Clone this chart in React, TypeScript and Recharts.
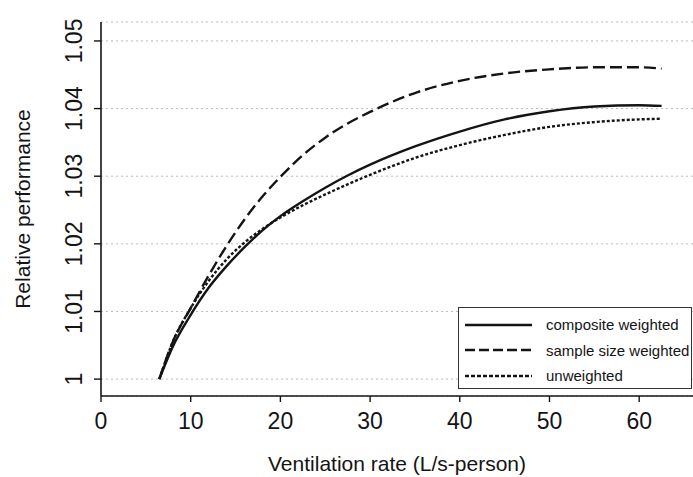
import React from "react";
import { LineChart, Line, XAxis, YAxis, CartesianGrid } from "recharts";

const rates = [6.5, 8, 10, 12, 14, 16, 18, 20, 22.5, 25, 27.5, 30, 35, 40, 45, 50, 55, 60, 62.5];
const composite = [1.0, 1.0048, 1.0095, 1.0135, 1.0167, 1.0195, 1.022, 1.0241, 1.0263, 1.0283, 1.0301, 1.0317, 1.0344, 1.0366, 1.0384, 1.0396, 1.0403, 1.0405, 1.0404];
const sampleSize = [1.0, 1.0055, 1.0105, 1.0153, 1.0197, 1.0236, 1.027, 1.0299, 1.0331, 1.0357, 1.0378, 1.0395, 1.0423, 1.0441, 1.0452, 1.0458, 1.0461, 1.0461, 1.0459];
const unweighted = [1.0, 1.0055, 1.0105, 1.0145, 1.0177, 1.0202, 1.0222, 1.0239, 1.0257, 1.0273, 1.0288, 1.0302, 1.0327, 1.0346, 1.0361, 1.0373, 1.038, 1.0384, 1.0385];
const xTicks = [0, 10, 20, 30, 40, 50, 60];
const yTicks = [1, 1.01, 1.02, 1.03, 1.04, 1.05];

const series = [
  { key: "composite", name: "composite weighted", dash: undefined as string | undefined, legendDash: undefined as string | undefined },
  { key: "sample", name: "sample size weighted", dash: "12 5", legendDash: "10 4" },
  { key: "unweighted", name: "unweighted", dash: "3 2", legendDash: "4 2" },
];

const data = rates.map((r, i) => ({
  rate: r,
  composite: composite[i],
  sample: sampleSize[i],
  unweighted: unweighted[i],
}));

const FONT = "'Liberation Sans', Arial, Helvetica, sans-serif";
const INK = "#141414";

const YTick = (props: any) => {
  const { x, y, payload } = props;
  const v = payload.value;
  const label = v === 1 ? "1" : v.toFixed(2);
  const tx = x - 10;
  return (
    <text x={tx} y={y} transform={`rotate(-90, ${tx}, ${y})`} textAnchor="middle" fontSize={23} fill={INK} fontFamily={FONT}>
      {label}
    </text>
  );
};

const YLabel = (props: any) => {
  const vb = props.viewBox;
  const cx = vb.x + 22;
  const cy = vb.y + vb.height / 2;
  return (
    <text x={cx} y={cy} transform={`rotate(-90, ${cx}, ${cy})`} textAnchor="middle" dominantBaseline="central" fontSize={21} fill={INK} fontFamily={FONT}>
      Relative performance
    </text>
  );
};

// legend box drawn over the plot, bottom right
const LegendBox = () => (
  <div
    style={{
      position: "absolute", left: 458, top: 307, width: 234, height: 82,
      border: "1.4px solid #333", background: "#fff", boxSizing: "border-box",
      paddingTop: 4, fontFamily: FONT,
    }}
  >
    {series.map((s) => (
      <div key={s.key} style={{ display: "flex", alignItems: "center", height: 25.5, whiteSpace: "nowrap" }}>
        <svg width={80} height={10} style={{ display: "block", flex: "none" }}>
          <line x1={6} x2={73} y1={5} y2={5} stroke={INK} strokeWidth={2.4} strokeDasharray={s.legendDash} />
        </svg>
        <span style={{ fontSize: 15, color: INK, marginLeft: 7 }}>{s.name}</span>
      </div>
    ))}
  </div>
);

export default function App() {
  return (
    <div style={{ position: "absolute", left: 0, top: 0, width: 693, height: 477, background: "#fff", overflow: "hidden" }}>
      <LineChart width={693} height={477} data={data} margin={{ top: 22, right: 0, bottom: 0, left: 0 }}>
        <CartesianGrid vertical={false} stroke="#bcbcbc" strokeDasharray="2 3" />
        <XAxis
          dataKey="rate"
          type="number"
          domain={[0, 66]}
          ticks={xTicks}
          height={81}
          tickSize={6}
          tickMargin={11}
          axisLine={{ stroke: INK, strokeWidth: 1.6 }}
          tickLine={{ stroke: INK, strokeWidth: 1.4 }}
          tick={{ fontSize: 23, fill: INK, fontFamily: FONT }}
          label={{ value: "Ventilation rate (L/s-person)", position: "insideBottom", offset: 6, fontSize: 21, fill: INK, fontFamily: FONT }}
        />
        <XAxis
          xAxisId="top"
          orientation="top"
          dataKey="rate"
          type="number"
          domain={[0, 66]}
          height={0}
          tick={false}
          tickLine={false}
          axisLine={{ stroke: INK, strokeWidth: 1.6 }}
        />
        <YAxis
          type="number"
          domain={[0.9975, 1.0528]}
          ticks={yTicks}
          width={101}
          tickSize={7}
          tickMargin={2}
          axisLine={{ stroke: INK, strokeWidth: 1.6 }}
          tickLine={{ stroke: INK, strokeWidth: 1.4 }}
          tick={<YTick />}
          label={<YLabel />}
        />
        {series.map((s) => (
          <Line
            key={s.key}
            type="monotone"
            dataKey={s.key}
            name={s.name}
            stroke={INK}
            strokeWidth={2.4}
            strokeDasharray={s.dash}
            dot={false}
            activeDot={false}
            isAnimationActive={false}
          />
        ))}
      </LineChart>
      <LegendBox />
    </div>
  );
}
